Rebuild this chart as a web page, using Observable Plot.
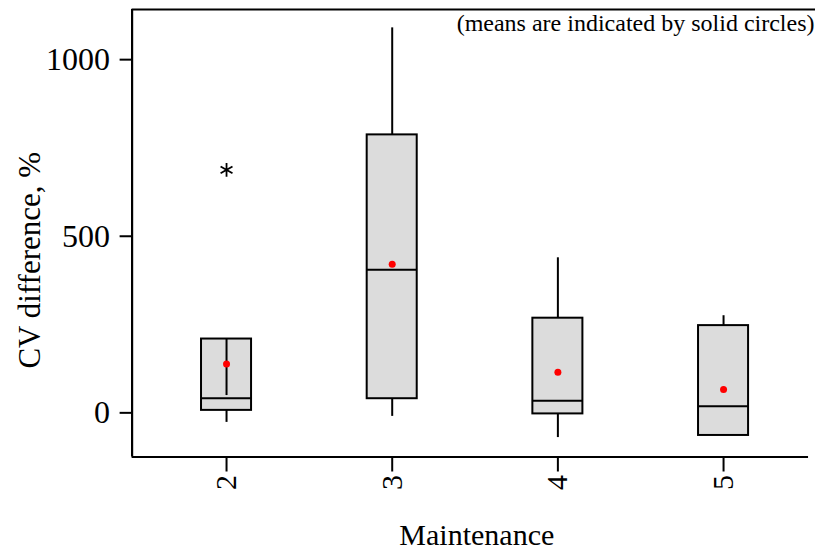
<!DOCTYPE html>
<html>
<head>
<meta charset="utf-8">
<script src="https://cdn.jsdelivr.net/npm/d3@7"></script>
<script src="https://cdn.jsdelivr.net/npm/@observablehq/plot@0.6"></script>
<style>
  html, body { margin: 0; padding: 0; background: #fff; }
  svg { display: block; }
  svg, svg text { font-family: "Liberation Serif", "Times New Roman", Times, serif !important; }
</style>
</head>
<body>
<div id="chart"></div>
<script>
// Data
const categories = [2, 3, 4, 5];
const q1 = [7, 40, -3, -64];
const median = [41, 405, 34, 19];
const q3 = [209, 787, 268, 247];
const whiskerLow = [-27, -10, -70, -64];
const whiskerHigh = [209, 1090, 439, 275];
const means = [138, 421, 115, 66];
const outlierCats = [2];
const outlierValues = [688];
// vertical segment drawn inside box 2 in the reference
const innerCats = [2];
const innerFrom = [49];
const innerTo = [209];
const yTicks = [0, 500, 1000];

const xDomain = [1.43, 5.555];
const yDomain = [-125, 1142];
const halfBox = 0.151;

const boxes = categories.map((c, i) => ({
  cat: c, q1: q1[i], med: median[i], q3: q3[i],
  lo: whiskerLow[i], hi: whiskerHigh[i], mean: means[i]
}));
const outliers = outlierCats.map((c, i) => ({cat: c, v: outlierValues[i]}));
const inner = innerCats.map((c, i) => ({cat: c, a: innerFrom[i], b: innerTo[i]}));

const chart = Plot.plot({
  width: 815,
  height: 550,
  marginLeft: 131.6,
  marginRight: 0,
  marginTop: 9,
  marginBottom: 93.5,
  style: {fontFamily: '"Liberation Serif", "Times New Roman", Times, serif', color: "#000", background: "#fff"},
  x: {domain: xDomain},
  y: {domain: yDomain},
  marks: [
    // whiskers
    Plot.ruleX(boxes, {x: "cat", y1: "q3", y2: "hi", stroke: "#000", strokeWidth: 2}),
    Plot.ruleX(boxes, {x: "cat", y1: "lo", y2: "q1", stroke: "#000", strokeWidth: 2}),
    // boxes
    Plot.rect(boxes, {x1: d => d.cat - halfBox, x2: d => d.cat + halfBox, y1: "q1", y2: "q3",
      fill: "#dcdcdc", stroke: "#000", strokeWidth: 2}),
    Plot.ruleY(boxes, {y: "med", x1: d => d.cat - halfBox, x2: d => d.cat + halfBox, stroke: "#000", strokeWidth: 2}),
    Plot.ruleX(inner, {x: "cat", y1: "a", y2: "b", stroke: "#000", strokeWidth: 2}),
    // means
    Plot.dot(boxes, {x: "cat", y: "mean", r: 3.5, fill: "#ff0000", stroke: "none"}),
    // outliers
    Plot.dot(outliers, {x: "cat", y: "v", symbol: "asterisk", r: 6.5, stroke: "#000", strokeWidth: 1.8}),
    // frame lines
    Plot.ruleX([xDomain[0]], {stroke: "#000", strokeWidth: 2.2}),
    Plot.ruleY([yDomain[1]], {stroke: "#000", strokeWidth: 2.2}),
    Plot.ruleY([yDomain[0]], {x1: xDomain[0], x2: 5.513, stroke: "#000", strokeWidth: 2.2}),
    // axes
    Plot.axisY({ticks: yTicks, tickSize: 12, tickPadding: 10, fontSize: 32, label: null, strokeWidth: 2,
      tickFormat: d3.format("d")}),
    Plot.axisX({ticks: categories, tickSize: 15, tickPadding: 3, tickRotate: -90, fontSize: 30,
      label: null, strokeWidth: 2, tickFormat: d => String(d)}),
    // axis titles and note
    Plot.text(["CV difference, %"], {frameAnchor: "left", dx: -101.6, dy: 27, rotate: -90,
      fontSize: 31, textAnchor: "middle", lineAnchor: "middle"}),
    Plot.text(["Maintenance"], {frameAnchor: "bottom", dx: 3, dy: 78, fontSize: 30,
      textAnchor: "middle", lineAnchor: "middle"}),
    Plot.text(["(means are indicated by solid circles)"], {frameAnchor: "top-right", dx: -1, dy: 21,
      fontSize: 24, textAnchor: "end", lineAnchor: "bottom"})
  ]
});
document.getElementById("chart").appendChild(chart);
</script>
</body>
</html>
